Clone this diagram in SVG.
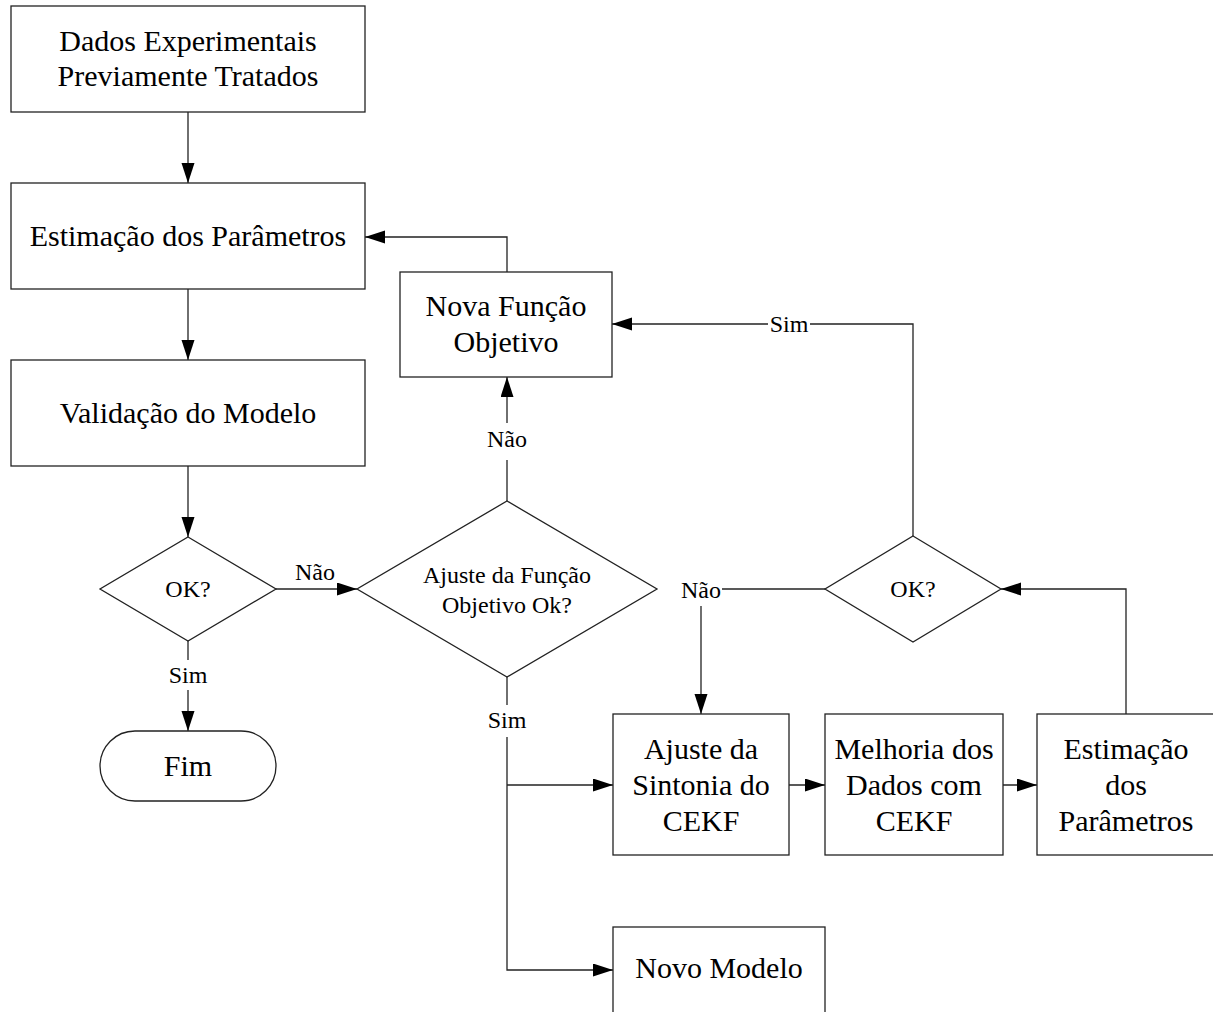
<svg xmlns="http://www.w3.org/2000/svg" width="1213" height="1012" viewBox="0 0 1213 1012">
<style>
.n{fill:#fff;stroke:#222;stroke-width:1.3}
.t{font-family:"Liberation Serif","Times New Roman",serif;font-size:30px;fill:#000;text-anchor:middle}
.s{font-family:"Liberation Serif","Times New Roman",serif;font-size:24px;fill:#000;text-anchor:middle}
.c{fill:none;stroke:#222;stroke-width:1.3}
</style>
<defs>
<marker id="ah" markerUnits="userSpaceOnUse" markerWidth="20" markerHeight="14" refX="20" refY="6.5" orient="auto">
<path d="M0,0 L20,6.5 L0,13 z" fill="#000"/>
</marker>
</defs>
<rect width="1213" height="1012" fill="#fff"/>
<g id="connectors">
<path class="c" d="M188,112 V183" marker-end="url(#ah)"/>
<path class="c" d="M188,289 V360" marker-end="url(#ah)"/>
<path class="c" d="M188,466 V537" marker-end="url(#ah)"/>
<path class="c" d="M188,641 V660"/>
<path class="c" d="M188,690 V731" marker-end="url(#ah)"/>
<path class="c" d="M276,589 H357" marker-end="url(#ah)"/>
<path class="c" d="M507,501 V460"/>
<path class="c" d="M507,423 V377" marker-end="url(#ah)"/>
<path class="c" d="M507,272 V237 H365" marker-end="url(#ah)"/>
<path class="c" d="M507,677 V705"/>
<path class="c" d="M507,737 V970 H613" marker-end="url(#ah)"/>
<path class="c" d="M507,785 H613" marker-end="url(#ah)"/>
<path class="c" d="M913,536 V324 H810"/>
<path class="c" d="M768,324 H612" marker-end="url(#ah)"/>
<path class="c" d="M825,589 H722"/>
<path class="c" d="M701,606 V714" marker-end="url(#ah)"/>
<path class="c" d="M789,785 H825" marker-end="url(#ah)"/>
<path class="c" d="M1003,785 H1037" marker-end="url(#ah)"/>
<path class="c" d="M1126,714 V589 H1001" marker-end="url(#ah)"/>
<text class="s" x="188" y="683">Sim</text>
<text class="s" x="315" y="580">Não</text>
<text class="s" x="507" y="447">Não</text>
<text class="s" x="507" y="728">Sim</text>
<text class="s" x="789" y="332">Sim</text>
<text class="s" x="701" y="598">Não</text>
</g>
<g id="dados">
<rect class="n" x="11" y="6" width="354" height="106"/>
<text class="t" x="188" y="51">Dados Experimentais</text>
<text class="t" x="188" y="86">Previamente Tratados</text>
</g>
<g id="estimacao">
<rect class="n" x="11" y="183" width="354" height="106"/>
<text class="t" x="188" y="246">Estimação dos Parâmetros</text>
</g>
<g id="validacao">
<rect class="n" x="11" y="360" width="354" height="106"/>
<text class="t" x="188" y="423">Validação do Modelo</text>
</g>
<g id="ok1">
<polygon class="n" points="188,537 276,589 188,641 100,589"/>
<text class="s" x="188" y="597">OK?</text>
</g>
<g id="fim">
<rect class="n" x="100" y="731" width="176" height="70" rx="35" ry="35"/>
<text class="t" x="188" y="776">Fim</text>
</g>
<g id="ajusteFO">
<polygon class="n" points="507,501 657,589 507,677 357,589"/>
<text class="s" x="507" y="583">Ajuste da Função</text>
<text class="s" x="507" y="613">Objetivo Ok?</text>
</g>
<g id="novaFO">
<rect class="n" x="400" y="272" width="212" height="105"/>
<text class="t" x="506" y="316">Nova Função</text>
<text class="t" x="506" y="352">Objetivo</text>
</g>
<g id="ok2">
<polygon class="n" points="913,536 1001,589 913,642 825,589"/>
<text class="s" x="913" y="597">OK?</text>
</g>
<g id="ajusteCEKF">
<rect class="n" x="613" y="714" width="176" height="141"/>
<text class="t" x="701" y="759">Ajuste da</text>
<text class="t" x="701" y="795">Sintonia do</text>
<text class="t" x="701" y="831">CEKF</text>
</g>
<g id="melhoria">
<rect class="n" x="825" y="714" width="178" height="141"/>
<text class="t" x="914" y="759">Melhoria dos</text>
<text class="t" x="914" y="795">Dados com</text>
<text class="t" x="914" y="831">CEKF</text>
</g>
<g id="estimacao2">
<rect class="n" x="1037" y="714" width="180" height="141"/>
<text class="t" x="1126" y="759">Estimação</text>
<text class="t" x="1126" y="795">dos</text>
<text class="t" x="1126" y="831">Parâmetros</text>
</g>
<g id="novoModelo">
<rect class="n" x="613" y="927" width="212" height="100"/>
<text class="t" x="719" y="978">Novo Modelo</text>
</g>
</svg>
